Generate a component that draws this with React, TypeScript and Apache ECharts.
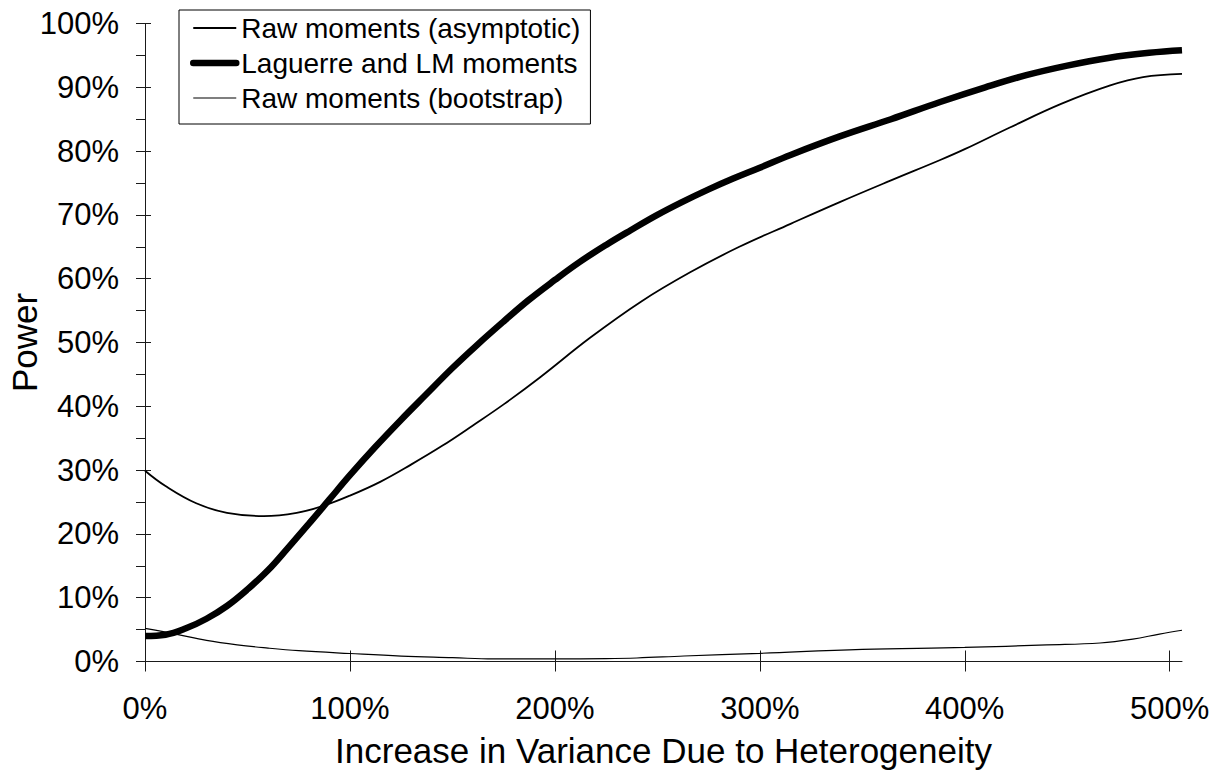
import React, { useEffect, useRef } from "react";
import * as echarts from "echarts";

// ---- data (x = increase in variance, %; y = power, %) ----
const seriesNames = [
  "Raw moments (asymptotic)",
  "Laguerre and LM moments",
  "Raw moments (bootstrap)",
];

const asymptoticPoints: [number, number][] = [
  [0, 29.9], [10, 27.5], [25, 24.8], [40, 23.3], [58, 22.8], [74, 23.3],
  [87, 24.4], [100, 26.0], [115, 28.2], [130, 30.9], [145, 33.8], [160, 37.0],
  [175, 40.3], [193, 44.6], [217, 50.7], [242, 56.4], [266, 61.0], [290, 65.0],
  [315, 68.6], [339, 72.0], [364, 75.4], [388, 78.6], [400, 80.3], [422, 83.7],
  [447, 87.4], [471, 90.3], [487, 91.6], [506, 92.1],
];

const laguerrePoints: [number, number][] = [
  [0, 4.0], [10, 4.2], [20, 5.2], [30, 6.7], [40, 8.7], [50, 11.3], [60, 14.3],
  [70, 17.9], [80, 21.6], [90, 25.4], [100, 29.2], [112, 33.5], [125, 37.9],
  [137, 41.8], [150, 46.0], [162, 49.6], [175, 53.3], [187, 56.6], [200, 59.8],
  [212, 62.6], [225, 65.3], [237, 67.6], [250, 70.0], [262, 72.0], [275, 74.0],
  [287, 75.7], [300, 77.4], [315, 79.4], [339, 82.3], [364, 85.0], [388, 87.7],
  [410, 90.0], [430, 91.9], [450, 93.4], [470, 94.6], [490, 95.4], [506, 95.8],
];

const bootstrapPoints: [number, number][] = [
  [0, 5.2], [15, 4.3], [30, 3.3], [45, 2.6], [60, 2.1], [75, 1.7], [100, 1.25],
  [125, 0.85], [150, 0.6], [170, 0.4], [200, 0.4], [225, 0.45], [240, 0.55],
  [263, 0.86], [300, 1.28], [350, 1.9], [400, 2.2], [440, 2.6], [466, 2.9],
  [482, 3.5], [495, 4.3], [506, 4.9],
];

const xTickValues = [0, 100, 200, 300, 400, 500];
const xAxisName = "Increase in Variance Due to Heterogeneity";
const yAxisName = "Power";

const FONT = "'Liberation Sans', Arial, Helvetica, sans-serif";
const AXIS_COLOR = "#1a1a1a";
const LINE_WIDTHS = [1.8, 6.5, 1.2];

export default function App() {
  const ref = useRef<HTMLDivElement>(null);

  useEffect(() => {
    if (!ref.current) return;
    const chart = echarts.init(ref.current, null, { renderer: "svg" });
    const pct = (v: number) => `${v}%`;

    chart.setOption({
      animation: false,
      backgroundColor: "#ffffff",
      grid: {
        left: 145,
        right: 43,
        top: 23.5,
        bottom: 113.5,
        containLabel: false,
        outerBoundsMode: "none",
      },
      legend: {
        orient: "vertical",
        left: 179,
        top: 10,
        align: "left",
        padding: [4, 10, 12, 11],
        itemGap: 7,
        itemWidth: 43,
        itemHeight: 14,
        borderColor: "#000",
        borderWidth: 1,
        backgroundColor: "#fff",
        itemStyle: { opacity: 0, borderWidth: 0 },
        textStyle: { fontSize: 28, color: "#000", fontFamily: FONT },
        data: [
          { name: seriesNames[0], lineStyle: { width: LINE_WIDTHS[0], color: "#000" } },
          { name: seriesNames[1], lineStyle: { width: LINE_WIDTHS[1], color: "#000", cap: "round" } },
          { name: seriesNames[2], lineStyle: { width: LINE_WIDTHS[2], color: "#000" } },
        ],
      },
      xAxis: [
        {
          type: "value",
          min: 0,
          max: 506,
          position: "bottom",
          axisLine: { show: true, onZero: false, lineStyle: { color: AXIS_COLOR, width: 1 } },
          axisTick: { show: true, inside: false, length: 10, customValues: xTickValues, lineStyle: { color: AXIS_COLOR } },
          axisLabel: {
            customValues: xTickValues,
            formatter: pct,
            fontSize: 31,
            color: "#000",
            fontFamily: FONT,
            margin: 31,
          },
          splitLine: { show: false },
          name: xAxisName,
          nameLocation: "middle",
          nameGap: 71,
          nameMoveOverlap: false,
          nameTextStyle: { fontSize: 35, color: "#000", fontFamily: FONT },
        },
        {
          type: "value",
          min: 0,
          max: 506,
          position: "bottom",
          offset: 0,
          axisLine: { show: false },
          axisTick: { show: true, inside: true, length: 11, customValues: xTickValues, lineStyle: { color: AXIS_COLOR } },
          axisLabel: { show: false },
          splitLine: { show: false },
        },
      ],
      yAxis: [
        {
          type: "value",
          min: 0,
          max: 100,
          interval: 10,
          position: "left",
          axisLine: { show: true, lineStyle: { color: AXIS_COLOR, width: 1 } },
          axisTick: { show: true, inside: false, length: 9, lineStyle: { color: AXIS_COLOR } },
          minorTick: { show: true, splitNumber: 2, length: 9, lineStyle: { color: AXIS_COLOR } },
          axisLabel: { formatter: pct, fontSize: 31, color: "#000", fontFamily: FONT, margin: 26 },
          splitLine: { show: false },
          minorSplitLine: { show: false },
          name: yAxisName,
          nameLocation: "middle",
          nameGap: 103,
          nameRotate: 90,
          nameMoveOverlap: false,
          nameTextStyle: { fontSize: 35, color: "#000", fontFamily: FONT },
        },
        {
          type: "value",
          min: 0,
          max: 100,
          interval: 10,
          position: "left",
          offset: 0,
          axisLine: { show: false },
          axisTick: { show: true, inside: true, length: 6, lineStyle: { color: AXIS_COLOR } },
          axisLabel: { show: false },
          splitLine: { show: false },
        },
      ],
      series: [
        {
          name: seriesNames[0],
          type: "line",
          data: asymptoticPoints,
          smooth: 0.4,
          symbol: "none",
          lineStyle: { color: "#000", width: LINE_WIDTHS[0] },
          itemStyle: { color: "#000" },
          z: 3,
        },
        {
          name: seriesNames[1],
          type: "line",
          data: laguerrePoints,
          smooth: 0.4,
          symbol: "none",
          lineStyle: { color: "#000", width: LINE_WIDTHS[1] },
          itemStyle: { color: "#000" },
          z: 4,
        },
        {
          name: seriesNames[2],
          type: "line",
          data: bootstrapPoints,
          smooth: 0.4,
          symbol: "none",
          lineStyle: { color: "#000", width: LINE_WIDTHS[2] },
          itemStyle: { color: "#000" },
          z: 3,
        },
      ],
    });

    return () => chart.dispose();
  }, []);

  return (
    <div
      ref={ref}
      style={{ position: "absolute", left: 0, top: 0, width: 1225, height: 775, background: "#fff" }}
    />
  );
}
